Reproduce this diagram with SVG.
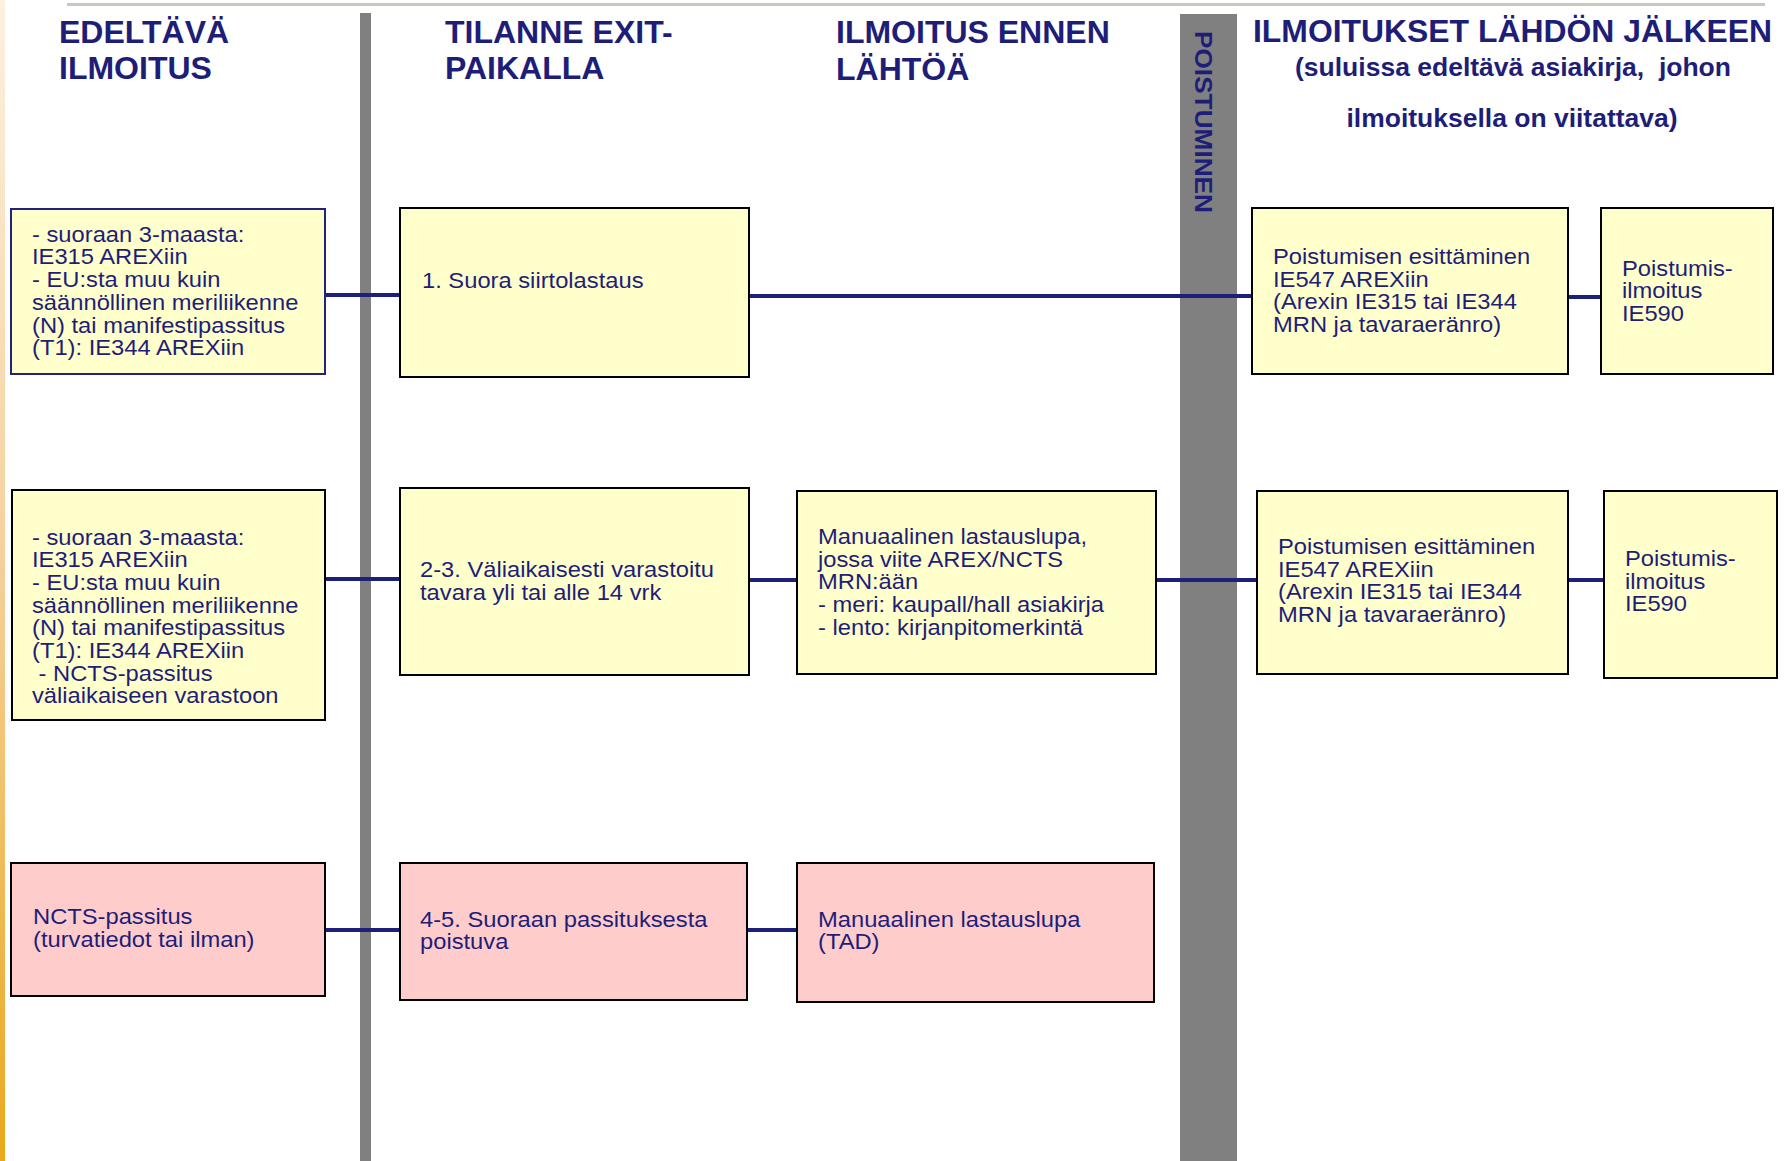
<svg xmlns="http://www.w3.org/2000/svg" width="1784" height="1161" viewBox="0 0 1784 1161" xml:space="preserve">
<defs>
<linearGradient id="edge" x1="0" y1="0" x2="0" y2="1">
<stop offset="0" stop-color="#fdf0e0"/>
<stop offset="0.5" stop-color="#f5cf98"/>
<stop offset="1" stop-color="#e9a81c"/>
</linearGradient>
<style>
text { font-family: "Liberation Sans", Arial, sans-serif; fill: #1e1e78; white-space: pre; }
.h { font-size: 32px; font-weight: bold; }
.sub { font-size: 25px; font-weight: bold; }
.t { font-size: 22.5px; }
.y { fill: #ffffcc; stroke: #000; stroke-width: 2; }
.yb { fill: #ffffcc; stroke: #22227a; stroke-width: 2; }
.p { fill: #ffcccc; stroke: #000; stroke-width: 2; }
.c { stroke: #1e1e7c; stroke-width: 4; fill: none; }
.bar { fill: #808080; }
</style>
</defs>
<rect width="1784" height="1161" fill="#ffffff"/>
<rect x="0" y="0" width="5" height="1161" fill="url(#edge)"/>
<rect x="67" y="3" width="1698" height="3" fill="#c8c8be"/>
<g id="bars">
<rect class="bar" x="360" y="13" width="11" height="1148"/>
<rect class="bar" x="1180" y="14" width="57" height="1147"/>
<text transform="translate(1195,31) rotate(90)" font-size="23" font-weight="bold" textLength="182" lengthAdjust="spacingAndGlyphs">POISTUMINEN</text>
</g>
<g id="headers">
<text class="h" x="59" y="43">EDELTÄVÄ</text>
<text class="h" x="59" y="79">ILMOITUS</text>
<text class="h" x="445" y="43">TILANNE EXIT-</text>
<text class="h" x="445" y="79">PAIKALLA</text>
<text class="h" x="836" y="43">ILMOITUS ENNEN</text>
<text class="h" x="836" y="80">LÄHTÖÄ</text>
<text class="h" x="1253" y="42" textLength="519" lengthAdjust="spacingAndGlyphs">ILMOITUKSET LÄHDÖN JÄLKEEN</text>
<text class="sub" x="1513" y="76" text-anchor="middle" textLength="436" lengthAdjust="spacingAndGlyphs">(suluissa edeltävä asiakirja,  johon</text>
<text class="sub" x="1512" y="127" text-anchor="middle" textLength="331" lengthAdjust="spacingAndGlyphs">ilmoituksella on viitattava)</text>
</g>
<g id="connectors">
<line class="c" x1="325" y1="295" x2="400" y2="295"/>
<line class="c" x1="749" y1="296" x2="1252" y2="296"/>
<line class="c" x1="1568" y1="297" x2="1601" y2="297"/>
<line class="c" x1="326" y1="579" x2="400" y2="579"/>
<line class="c" x1="749" y1="580" x2="797" y2="580"/>
<line class="c" x1="1156" y1="580" x2="1257" y2="580"/>
<line class="c" x1="1568" y1="580" x2="1604" y2="580"/>
<line class="c" x1="325" y1="930" x2="400" y2="930"/>
<line class="c" x1="747" y1="930" x2="797" y2="930"/>
</g>
<g id="a1">
<rect class="yb" x="11" y="209" width="314" height="165"/>
<g transform="translate(32 0) scale(1.055 1)">
<text class="t" x="0" y="242">- suoraan 3-maasta:</text>
<text class="t" x="0" y="264.5">IE315 AREXiin</text>
<text class="t" x="0" y="287.2">- EU:sta muu kuin</text>
<text class="t" x="0" y="310">säännöllinen meriliikenne</text>
<text class="t" x="0" y="332.7">(N) tai manifestipassitus</text>
<text class="t" x="0" y="355.3">(T1): IE344 AREXiin</text>
</g>
</g>
<g id="b1">
<rect class="y" x="400" y="208" width="349" height="169"/>
<g transform="translate(422 0) scale(1.055 1)">
<text class="t" x="0" y="288.3">1. Suora siirtolastaus</text>
</g>
</g>
<g id="d1">
<rect class="y" x="1252" y="208" width="316" height="166"/>
<g transform="translate(1273 0) scale(1.055 1)">
<text class="t" x="0" y="264">Poistumisen esittäminen</text>
<text class="t" x="0" y="286.7">IE547 AREXiin</text>
<text class="t" x="0" y="309.3">(Arexin IE315 tai IE344</text>
<text class="t" x="0" y="332">MRN ja tavaraeränro)</text>
</g>
</g>
<g id="e1">
<rect class="y" x="1601" y="208" width="172" height="166"/>
<g transform="translate(1622 0) scale(1.055 1)">
<text class="t" x="0" y="276">Poistumis-</text>
<text class="t" x="0" y="298.3">ilmoitus</text>
<text class="t" x="0" y="320.7">IE590</text>
</g>
</g>
<g id="a2">
<rect class="y" x="12" y="490" width="313" height="230"/>
<g transform="translate(32 0) scale(1.055 1)">
<text class="t" x="0" y="545">- suoraan 3-maasta:</text>
<text class="t" x="0" y="567.5">IE315 AREXiin</text>
<text class="t" x="0" y="590.2">- EU:sta muu kuin</text>
<text class="t" x="0" y="612.8">säännöllinen meriliikenne</text>
<text class="t" x="0" y="635.5">(N) tai manifestipassitus</text>
<text class="t" x="0" y="658.2">(T1): IE344 AREXiin</text>
<text class="t" x="0" y="680.8"> - NCTS-passitus</text>
<text class="t" x="0" y="703.5">väliaikaiseen varastoon</text>
</g>
</g>
<g id="b2">
<rect class="y" x="400" y="488" width="349" height="187"/>
<g transform="translate(420 0) scale(1.055 1)">
<text class="t" x="0" y="577.3">2-3. Väliaikaisesti varastoitu</text>
<text class="t" x="0" y="600">tavara yli tai alle 14 vrk</text>
</g>
</g>
<g id="c2">
<rect class="y" x="797" y="491" width="359" height="183"/>
<g transform="translate(818 0) scale(1.055 1)">
<text class="t" x="0" y="544">Manuaalinen lastauslupa,</text>
<text class="t" x="0" y="566.7">jossa viite AREX/NCTS</text>
<text class="t" x="0" y="589.3">MRN:ään</text>
<text class="t" x="0" y="612">- meri: kaupall/hall asiakirja</text>
<text class="t" x="0" y="634.7">- lento: kirjanpitomerkintä</text>
</g>
</g>
<g id="d2">
<rect class="y" x="1257" y="491" width="311" height="183"/>
<g transform="translate(1278 0) scale(1.055 1)">
<text class="t" x="0" y="554">Poistumisen esittäminen</text>
<text class="t" x="0" y="576.7">IE547 AREXiin</text>
<text class="t" x="0" y="599.3">(Arexin IE315 tai IE344</text>
<text class="t" x="0" y="622">MRN ja tavaraeränro)</text>
</g>
</g>
<g id="e2">
<rect class="y" x="1604" y="491" width="173" height="187"/>
<g transform="translate(1625 0) scale(1.055 1)">
<text class="t" x="0" y="566">Poistumis-</text>
<text class="t" x="0" y="588.7">ilmoitus</text>
<text class="t" x="0" y="611.3">IE590</text>
</g>
</g>
<g id="a3">
<rect class="p" x="11" y="863" width="314" height="133"/>
<g transform="translate(33 0) scale(1.055 1)">
<text class="t" x="0" y="924">NCTS-passitus</text>
<text class="t" x="0" y="946.7">(turvatiedot tai ilman)</text>
</g>
</g>
<g id="b3">
<rect class="p" x="400" y="863" width="347" height="137"/>
<g transform="translate(420 0) scale(1.055 1)">
<text class="t" x="0" y="926.7">4-5. Suoraan passituksesta</text>
<text class="t" x="0" y="949.3">poistuva</text>
</g>
</g>
<g id="c3">
<rect class="p" x="797" y="863" width="357" height="139"/>
<g transform="translate(818 0) scale(1.055 1)">
<text class="t" x="0" y="926.7">Manuaalinen lastauslupa</text>
<text class="t" x="0" y="949.3">(TAD)</text>
</g>
</g>
</svg>
